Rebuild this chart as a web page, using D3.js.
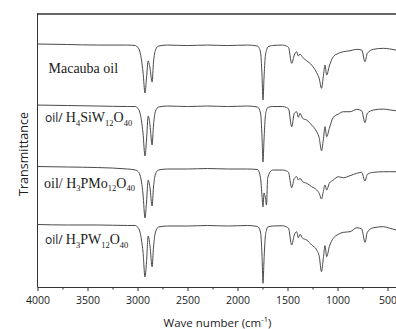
<!DOCTYPE html>
<html>
<head>
<meta charset="utf-8">
<script src="https://cdn.jsdelivr.net/npm/d3@7.9.0/dist/d3.min.js"></script>
<style>
  html, body { margin: 0; padding: 0; background: #fff; }
  svg { display: block; }
</style>
</head>
<body>
<svg id="chart" width="396" height="329"></svg>
<script>
// wavenumber grid (cm-1) shared by all four spectra
const wavenumbers = [4000, 3700, 3400, 3100, 3020, 3000, 2975, 2960, 2945, 2925,
  2910, 2893, 2875, 2854, 2840, 2820, 2790, 2700, 2500, 2300,
  2100, 1900, 1800, 1770, 1755, 1745, 1735, 1722, 1710, 1698,
  1650, 1550, 1510, 1490, 1458, 1432, 1408, 1392, 1375, 1348,
  1308, 1258, 1208, 1182, 1160, 1142, 1125, 1108, 1082, 1042,
  992, 942, 875, 808, 758, 725, 702, 642, 542, 480, 415, 400];

// transmittance (a.u.)
const macaubaOil = [100.5, 99.7, 98.8, 98.8, 98, 95.5, 87.3, 74.1, 54.4, 19.8,
  44.5, 72.5, 60.9, 37.8, 70.8, 90.6, 97.2, 98.8, 98, 98.8,
  98, 98.8, 97.2, 87.3, 49.4, 8.2, 44.5, 80, 90, 95.5,
  98, 98.8, 97.2, 95, 68.7, 82.3, 87.8, 80.7, 84, 78.5,
  72.9, 65.9, 53.2, 43, 27.5, 46.6, 65.9, 49.4, 64.2, 79.5,
  85.1, 87.8, 89.4, 91.7, 90.6, 71.3, 85.1, 91.7, 93.4, 92.5, 90.6, 90];

const oilSiW = [99.9, 99.1, 98.3, 97.5, 97.5, 95, 86.8, 73.6, 53.8, 15.9,
  42.3, 81.8, 67, 34, 67, 90, 96.6, 98.3, 97.5, 98.3,
  97.5, 98.3, 96.6, 86.8, 48.8, 6, 42.3, 80.2, 91.7, 95.8,
  97.5, 97.5, 95.8, 94, 64.2, 86.3, 88.9, 79.7, 86.3, 78,
  75.2, 67, 55.9, 45, 24.6, 42.3, 64.2, 47.7, 61.5, 79.7,
  85.1, 88.9, 88.9, 92.8, 90.5, 70.8, 86.3, 91.7, 93.3, 92, 90.5, 90];

const oilPMo = [98.6, 97.8, 96.9, 94.5, 92.8, 91.2, 84.6, 73, 53.3, 13.8,
  40.1, 76.3, 63.2, 33.5, 64.8, 86.2, 92.8, 94.5, 94.5, 95.3,
  94.5, 94.5, 93.6, 80, 50, 32, 55, 48, 35, 80,
  92.8, 92.8, 91.2, 89, 63.6, 79.1, 81.8, 76.3, 79.1, 73.5,
  70.9, 65.3, 59.9, 54, 45, 57.1, 68.1, 59.9, 70.9, 76.3,
  81.8, 80.1, 83.4, 87.4, 89, 74.7, 85.7, 89, 90, 90, 90, 90];

const oilPW = [103, 102.2, 102.2, 101.4, 101.4, 98.9, 90.6, 77.4, 57.7, 16.5,
  41.2, 84, 67.5, 33.5, 65.9, 90.6, 98.9, 100.5, 100.5, 101.4,
  100.5, 101.4, 99.7, 90.6, 52.7, 6.1, 44.5, 82.4, 93.9, 98.9,
  100.5, 101, 98.9, 97, 69.2, 85.7, 91.1, 81.2, 86.8, 80.3,
  77.5, 69.2, 61, 50, 25.2, 47.3, 68.1, 49.9, 66.4, 80.3,
  86.8, 90.1, 91.1, 97.7, 95.6, 73.7, 90.1, 97.7, 99.4, 97, 93.9, 93];

const seriesOffsets = [300, 200, 100, 0];
const majorTicks = [4000, 3500, 3000, 2500, 2000, 1500, 1000, 500];
const minorTicks = [3750, 3250, 2750, 2250, 1750, 1250, 750];

// label pieces: [text, kind] kind: s = serif, a = sans, b = subscript
const seriesLabels = [
  [["Macauba oil", "s"]],
  [["oil/ ", "a"], ["H", "s"], ["4", "b"], ["SiW", "s"], ["12", "b"], ["O", "s"], ["40", "b"]],
  [["oil/ H", "s"], ["3", "b"], ["PMo", "s"], ["12", "b"], ["O", "s"], ["40", "b"]],
  [["oil/ ", "a"], ["H", "s"], ["3", "b"], ["PW", "s"], ["12", "b"], ["O", "s"], ["40", "b"]]
];

const series = [macaubaOil, oilSiW, oilPMo, oilPW];

const svg = d3.select("#chart");
const width = 396, height = 329;
const margin = { top: 14, left: 37.5, bottom: 287, right: 397.5 };

const x = d3.scaleLinear().domain([4000, 400]).range([margin.left, margin.right]);
const y = d3.scaleLinear().domain([0, 450]).range([margin.bottom, margin.top]);

const sans = "'Open Sans', 'DejaVu Sans', sans-serif";
const serif = "'Liberation Serif', 'Times New Roman', serif";

// spectra
const line = d3.line()
  .x(d => x(d[0]))
  .y(d => y(d[1]))
  .curve(d3.curveMonotoneX);

series.forEach((vals, i) => {
  const pts = wavenumbers.map((w, j) => [w, vals[j] + seriesOffsets[i]]);
  svg.append("path")
    .datum(pts)
    .attr("d", line)
    .attr("fill", "none")
    .attr("stroke", "#4a4a4a")
    .attr("stroke-width", 1)
    .attr("stroke-linejoin", "round");
});

// frame
svg.append("line")
  .attr("x1", margin.left).attr("x2", margin.right)
  .attr("y1", margin.top).attr("y2", margin.top)
  .attr("stroke", "#666").attr("stroke-width", 2);

svg.append("line")
  .attr("x1", margin.left).attr("x2", margin.left)
  .attr("y1", margin.top - 1).attr("y2", margin.bottom + 0.5)
  .attr("stroke", "#333").attr("stroke-width", 1);

svg.append("line")
  .attr("x1", margin.right).attr("x2", margin.right)
  .attr("y1", margin.top).attr("y2", margin.bottom)
  .attr("stroke", "#333").attr("stroke-width", 1);

// x axis
const xAxis = svg.append("g")
  .attr("transform", `translate(0,${margin.bottom})`)
  .call(d3.axisBottom(x)
    .tickValues(majorTicks)
    .tickSize(4)
    .tickSizeOuter(0)
    .tickPadding(6)
    .tickFormat(d3.format("d")));

xAxis.selectAll("text")
  .style("font-family", sans)
  .style("font-size", "10.5px")
  .attr("fill", "#222");
xAxis.select(".domain").attr("stroke", "#333");
xAxis.selectAll(".tick line").attr("stroke", "#333");

const xMinor = svg.append("g")
  .attr("transform", `translate(0,${margin.bottom})`)
  .call(d3.axisBottom(x).tickValues(minorTicks).tickSize(2.5).tickFormat(""));
xMinor.select(".domain").remove();
xMinor.selectAll(".tick line").attr("stroke", "#333");

// axis titles
const xTitle = svg.append("text")
  .attr("x", (margin.left + margin.right) / 2)
  .attr("y", 327)
  .attr("text-anchor", "middle")
  .style("font-family", sans)
  .style("font-size", "11.5px")
  .attr("fill", "#222");
xTitle.append("tspan").text("Wave number (cm");
xTitle.append("tspan").attr("dy", -5).style("font-size", "7.5px").text("-1");
xTitle.append("tspan").attr("dy", 5).text(")");

svg.append("text")
  .attr("transform", "rotate(-90)")
  .attr("x", -154)
  .attr("y", 27.5)
  .attr("text-anchor", "middle")
  .style("font-family", sans)
  .style("font-size", "12.5px")
  .attr("fill", "#222")
  .text("Transmittance");

// series labels
const labelPos = [[48.5, 72.5], [45, 122], [44, 187.5], [45, 244]];

seriesLabels.forEach((parts, i) => {
  const t = svg.append("text")
    .attr("x", labelPos[i][0])
    .attr("y", labelPos[i][1])
    .attr("fill", "#1a1a1a");
  let down = false;
  parts.forEach(([str, kind]) => {
    const ts = t.append("tspan").text(str);
    if (kind === "b") {
      ts.style("font-family", serif).style("font-size", "8.5px").attr("dy", 3.5);
      down = true;
    } else {
      ts.style("font-family", kind === "a" ? sans : serif)
        .style("font-size", kind === "a" ? "12px" : "14px");
      if (down) { ts.attr("dy", -3.5); down = false; }
    }
  });
});
</script>
</body>
</html>
